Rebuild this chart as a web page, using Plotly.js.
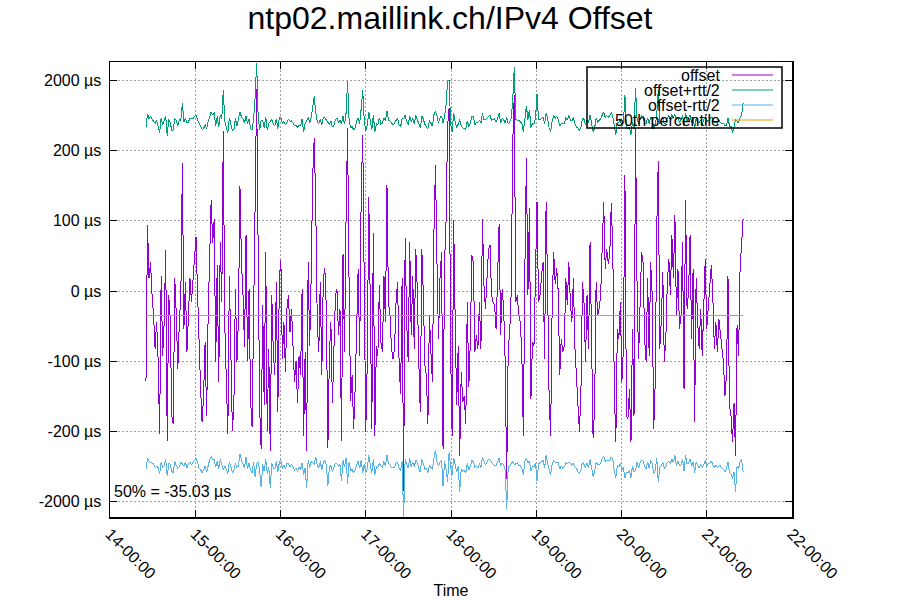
<!DOCTYPE html>
<html><head><meta charset="utf-8">
<script src="https://cdn.plot.ly/plotly-3.0.1.min.js"></script>
<style>html,body{margin:0;padding:0;background:#fff}
#chart .scatterlayer .js-line{shape-rendering:crispEdges}</style>
</head><body><div id="chart" style="width:900px;height:600px"></div>
<script>
const chartTitle = 'ntp02.maillink.ch/IPv4 Offset';
const xAxisTitle = 'Time';
const seriesNames = ['offset', 'offset+rtt/2', 'offset-rtt/2', '50th percentile'];
const seriesColors = ['#9400d3', '#009e73', '#56b4e9', '#e69f00'];
const unitLabel = 'µs';
const p50Label = '50%';
const p50 = -35.03;
const yTickValues = [-2000, -200, -100, 0, 100, 200, 2000];
const xRangeStart = '2024-01-01 14:00:00';
const xRangeEnd = '2024-01-01 22:00:00';
const sampleStartUTC = [2024, 0, 1, 14, 25, 20];
const sampleStepSeconds = 64;

// offset in µs (one value per 64 s sample)
const offsetSeg1 = [
-128, 94, 18, 41, -6, -35, -82, -44, -97, -218,
22, -92, -44, 58, -272, -6, -40, -178, -190, 18,
-35, -111, -44, -6, 183, -54, 13, -87, -35, 18,
-16, 13, 44, 77, -1, -87, -137, -187, -149, -73,
-178, -35, 46, 130, 68, 103, -101, 37, -130, 70,
-16, 386, -49, -149, -218, 22, -78, -199, -161, 3,
-101, -40, 149, 41];
const offsetSeg2 = [
-5, -80, 80, -100, 3, -155, -194, 8, 122, 1500,
30, -168, -357, -20, -163, 56, -200, -82, -377, -6,
-87, -120, 13, -172, 18, 44, -97, -44, -116, -25,
-6, -59, -25, -80, -130, -100, -160, -92, -120, 3,
-230, -87, -377, 41, -78, 22, 165, 300, 122, -44,
-87, 13, -120, 18, 32, -25, -350, -92, -44, -160,
-92, -6, 3, -63, -25, -270];
const offsetSeg3 = [
53, -87, 103, 416, 10, -156, -120, -197, -140, -35,
32, -92, 139, 334, -20, -207, -101, 134, -20, -197,
82, -230, -78, -92, 8, -73, -87, 22, -44, 151,
-16, -35, -82, -97, -82, -16, 13, -101, -147, 18,
-1410, 75, -44, -101, 70, -63, 22, -82, 60, 3,
-101, -173, 60, -6, -106, -120, -190, -35, -87, -130,
84, 180, 41, -68, 18, 56];
const offsetSeg4 = [
-357, 40, 100, 450, 800, -87, -230, 101, -40, -163,
-78, -446, -115, -158, -150, -190, -16, -137, -73, 51,
41, -87, -63, -82, -16, -82, 103, 8, -25, 18,
60, 65, -6, -16, -20, -54, 22, 96, -63, 3,
-25, -101, -960, -82, -59, 0, 270, 1250, -16, -6,
-35, -44, -92, -230, 32, 189, -6, 118, -154, -73,
-78, 13, 127, -16, -6, 22];
const offsetSeg5 = [
41, -97, 127, 5, -154, -230, -20, 56, 10, 32,
-1, -120, -68, -87, -78, 18, -20, 41, -16, -44,
18, -80, -116, -166, -207, -140, 13, -16, -101, -6,
-82, 70, -101, -250, -168, 13, -35, -25, -6, 80,
127, 32, 60, 39, 51, 125, 60, -140, -287, -54,
-68, -16, -130, -82, 165, -178, -182, -140, -287, -54,
-178, 416, 13, -97, 0, 56];
const offsetSeg6 = [
41, -68, -101, 18, -92, 41, -6, -197, -130, 89,
185, -82, -44, 27, -101, -68, 13, 46, -6, 80,
18, 108, -35, 32, -54, -35, 70, -140, 130, -25,
-1, 80, -68, 32, -187, 18, -44, -82, -25, -92,
-25, 46, -54, -25, -6, 37, -6, -82, -44, -87,
-40, -59, -87, -101, -149, -120, 22, -163, -178, -287,
-160, -450, -49, -92, 32, 65, 103];

// round-trip time in µs
const rttSeg1 = [
1120, 1150, 1100, 1170, 1130, 1090, 1140, 1180, 1110, 1160,
1130, 1100, 1150, 1120, 1200, 1140, 1090, 1130, 1170, 1110,
1150, 1120, 1180, 1100, 1530, 1140, 1120, 1160, 1090, 1130,
1170, 1110, 1140, 1120, 1100, 1150, 1130, 1180, 1120, 1090,
1160, 1130, 1110, 1170, 1140, 1200, 1100, 1150, 1120, 1130,
1160, 2170, 1140, 1110, 1150, 1130, 1090, 1170, 1120, 1140,
1100, 1160, 1130, 1120];
const rttSeg2 = [
1130, 1150, 1100, 1160, 1120, 1140, 1180, 1110, 2000, 4140,
1150, 1120, 1800, 1130, 1160, 1100, 1190, 1140, 1800, 1120,
1150, 1130, 1100, 1170, 1140, 1110, 1160, 1120, 1150, 1090,
1130, 1170, 1110, 1140, 1160, 1120, 1180, 1100, 1150, 1130,
1200, 1140, 1800, 1110, 1150, 1130, 1470, 1760, 1160, 1120,
1140, 1100, 1170, 1130, 1110, 1150, 1700, 1120, 1140, 1180,
1100, 1130, 1160, 1120, 1140, 1500];
const rttSeg3 = [
1140, 1120, 1160, 3070, 1100, 1150, 1130, 1180, 1120, 1140,
1110, 1160, 1300, 2230, 1130, 1170, 1120, 1150, 1100, 1180,
1140, 1200, 1120, 1130, 1160, 1100, 1150, 1120, 1140, 1170,
1110, 1130, 1160, 1120, 1150, 1090, 1140, 1130, 1170, 1110,
3960, 1150, 1120, 1140, 1100, 1160, 1130, 1120, 1150, 1110,
1140, 1180, 1120, 1130, 1160, 1100, 1190, 1140, 1120, 1150,
1130, 1100, 1160, 1120, 1140, 1130];
const rttSeg4 = [
1700, 1140, 1600, 3000, 2400, 1130, 1200, 1150, 1120, 1170,
1110, 2000, 1140, 1160, 1130, 1190, 1100, 1150, 1120, 1140,
1160, 1110, 1130, 1170, 1120, 1150, 1140, 1100, 1160, 1130,
1120, 1150, 1090, 1140, 1170, 1120, 1130, 1160, 1110, 1140,
1150, 1180, 3100, 1120, 1140, 1160, 1600, 3700, 1130, 1110,
1150, 1120, 1170, 1200, 1140, 1350, 1110, 1300, 1160, 1130,
1120, 1150, 2300, 1140, 1100, 1130];
const rttSeg5 = [
1130, 1150, 1120, 1160, 1140, 1200, 1110, 1150, 1130, 1170,
1120, 1140, 1100, 1160, 1130, 1150, 1120, 1180, 1110, 1140,
1160, 1130, 1100, 1170, 1190, 1140, 1120, 1150, 1130, 1110,
1160, 1140, 1120, 1250, 1170, 1130, 1100, 1150, 1140, 1120,
1160, 1130, 1150, 1110, 1140, 1170, 1120, 1180, 1250, 1130,
1150, 1120, 1160, 1140, 2170, 1180, 1190, 1150, 1250, 1130,
1160, 2270, 1120, 1140, 1110, 1150];
const rttSeg6 = [
1140, 1120, 1160, 1130, 1150, 1110, 1140, 1200, 1170, 1130,
2500, 1120, 1150, 1140, 1160, 1110, 1130, 1170, 1120, 1150,
1140, 1100, 1160, 1130, 1120, 1150, 1140, 1180, 1130, 1110,
1160, 1140, 1120, 1150, 1190, 1130, 1100, 1170, 1140, 1120,
1150, 1130, 1160, 1110, 1140, 1120, 1170, 1150, 1130, 1140,
1160, 1120, 1150, 1180, 1200, 1140, 1130, 1220, 1250, 1300,
1200, 2000, 1150, 1170, 1130, 1140, 1700];

const offsetUs = [].concat(offsetSeg1, offsetSeg2, offsetSeg3, offsetSeg4, offsetSeg5, offsetSeg6);
const rttUs = [].concat(rttSeg1, rttSeg2, rttSeg3, rttSeg4, rttSeg5, rttSeg6);

// sample timestamps (regular 64 s polling)
const t0 = Date.UTC.apply(null, sampleStartUTC);
const times = offsetUs.map((_, i) => new Date(t0 + i * sampleStepSeconds * 1000).toISOString().replace('T', ' ').slice(0, 19));

// gnuplot-like piecewise axis: linear within ±200 µs, logarithmic beyond
function toAxis(us) {
  const a = Math.abs(us), s = us < 0 ? -1 : 1;
  return a <= 200 ? us / 100 : s * (2 + Math.log10(a / 200));
}
const plusUs = offsetUs.map((o, i) => o + rttUs[i] / 2);
const minusUs = offsetUs.map((o, i) => o - rttUs[i] / 2);

const lineW = 1;
const traces = [
  {x: times, y: offsetUs.map(toAxis), customdata: offsetUs, name: seriesNames[0], type: 'scatter', mode: 'lines', line: {color: seriesColors[0], width: lineW}},
  {x: times, y: plusUs.map(toAxis), customdata: plusUs, name: seriesNames[1], type: 'scatter', mode: 'lines', line: {color: seriesColors[1], width: lineW}},
  {x: times, y: minusUs.map(toAxis), customdata: minusUs, name: seriesNames[2], type: 'scatter', mode: 'lines', line: {color: seriesColors[2], width: lineW}},
  {x: [times[0], times[times.length - 1]], y: [toAxis(p50), toAxis(p50)], name: seriesNames[3], type: 'scatter', mode: 'lines', line: {color: seriesColors[3], width: lineW}}
];

// layout geometry (pixels)
const W = 900, H = 600, L = 110, R = 792, T = 62, B = 517;
const px = x => (x - L) / (R - L);
const py = y => (B - y) / (B - T);

const fontFam = '"Liberation Sans", Arial, sans-serif';
const grid = {showgrid: true, gridcolor: '#a0a0a0', griddash: '2px,2px', gridwidth: 1};
const frame = {showline: true, linecolor: '#000', linewidth: 1.5, mirror: 'ticks', ticks: 'inside', ticklen: 7, tickcolor: '#000', tickwidth: 1, zeroline: false, automargin: false};

const legendRowsY = [75, 90, 105, 120];
const annotations = [
  {xref: 'paper', yref: 'paper', x: px(112), y: py(491), xanchor: 'left', yanchor: 'middle', showarrow: false,
   text: p50Label + ' = ' + p50.toFixed(2) + ' ' + unitLabel, font: {size: 16, color: '#000'}}
];
const shapes = [
  {type: 'rect', xref: 'paper', yref: 'paper', x0: px(587), x1: px(782), y0: py(67), y1: py(128), line: {color: '#000', width: 1.5}, fillcolor: 'rgba(0,0,0,0)', layer: 'above'}
];
seriesNames.forEach((n, i) => {
  annotations.push({xref: 'paper', yref: 'paper', x: px(722), y: py(legendRowsY[i]), xanchor: 'right', yanchor: 'middle', showarrow: false, text: n, font: {size: 16, color: '#000'}});
  shapes.push({type: 'line', xref: 'paper', yref: 'paper', x0: px(732), x1: px(773), y0: py(legendRowsY[i]), y1: py(legendRowsY[i]), line: {color: seriesColors[i], width: 1}, layer: 'above'});
});

const layout = {
  width: W, height: H,
  margin: {l: L, r: W - R, t: T, b: H - B, pad: 0},
  paper_bgcolor: '#fff', plot_bgcolor: '#fff',
  font: {family: fontFam, size: 16, color: '#000'},
  showlegend: false,
  title: {text: chartTitle, font: {size: 32, color: '#000'}, x: 0.5, xanchor: 'center', xref: 'container', y: 1 - 18 / H, yref: 'container', yanchor: 'middle'},
  xaxis: Object.assign({}, grid, frame, {
    type: 'date', range: [xRangeStart, xRangeEnd], tick0: xRangeStart, dtick: 3600000,
    tickformat: '%H-%M:%S', tickangle: 45, tickfont: {size: 16, color: '#000'},
    title: {text: xAxisTitle, font: {size: 16, color: '#000'}, standoff: 1}
  }),
  yaxis: Object.assign({}, grid, frame, {
    range: [-(B - 291) / 70.2, (291 - T) / 70.2],
    tickmode: 'array', tickvals: yTickValues.map(toAxis), ticktext: yTickValues.map(v => v + ' ' + unitLabel),
    tickfont: {size: 16, color: '#000'}, ticklabelstandoff: 4
  }),
  annotations: annotations,
  shapes: shapes
};

Plotly.newPlot('chart', traces, layout, {displayModeBar: false, staticPlot: true});
</script>
</body></html>
